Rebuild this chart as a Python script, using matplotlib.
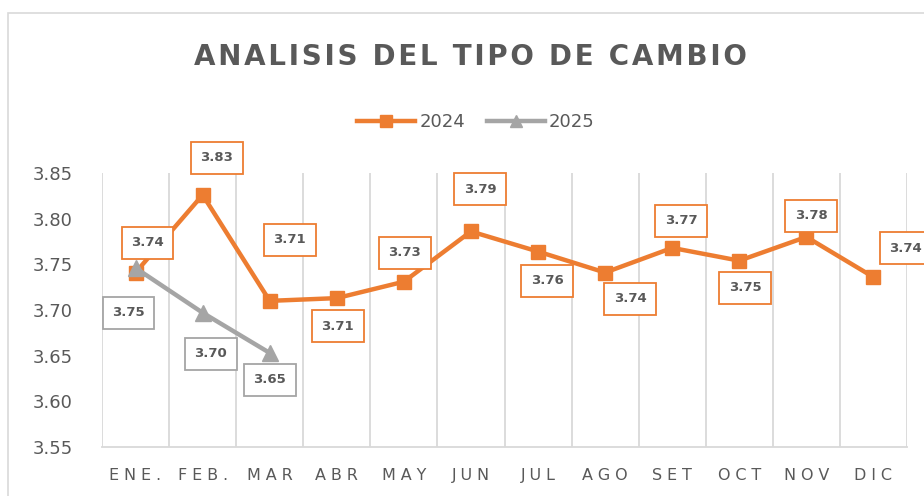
import matplotlib
matplotlib.use("Agg")
import matplotlib.pyplot as plt
from matplotlib.patches import Rectangle
from matplotlib.lines import Line2D

months = ["ENE.", "FEB.", "MAR", "ABR", "MAY", "JUN", "JUL", "AGO", "SET", "OCT", "NOV", "DIC"]
v2024 = [3.741, 3.826, 3.710, 3.713, 3.731, 3.786, 3.764, 3.741, 3.768, 3.754, 3.780, 3.736]
v2025 = [3.746, 3.697, 3.653]
yticks = [3.55, 3.60, 3.65, 3.70, 3.75, 3.80, 3.85]

ORANGE = "#ED7D31"
GRAY = "#A5A5A5"
TXT = "#595959"
GRID = "#D9D9D9"

# label offsets (pixels, right / down)
off2024 = [(12, -30), (14, -37), (20, -61), (1, 28), (1, -29), (9, -42),
           (9, 29), (25, 26), (9, -27), (6, 27), (5, -21), (32, -29)]
off2025 = [(-7, 45), (8, 41), (0, 27)]

W, H = 924, 496
fig = plt.figure(figsize=(W / 100, H / 100), dpi=100)
fig.patch.set_facecolor("white")

# chart border
fig.add_artist(Rectangle((8 / W, -0.1), 1.2, 1 - 13 / H + 0.1, transform=fig.transFigure,
                         fill=False, edgecolor=GRID, linewidth=1.2))

left, right, top, bottom = 102, 907, 173, 447
ax = fig.add_axes([left / W, 1 - bottom / H, (right - left) / W, (bottom - top) / H])
x = list(range(len(months)))

ax.set_xlim(-0.5, len(months) - 0.5)
ax.set_ylim(3.55, 3.85)
for k in range(len(months) + 1):
    ax.axvline(k - 0.5, color=GRID, linewidth=1.3, zorder=0)
for s in ["top", "right", "left"]:
    ax.spines[s].set_visible(False)
ax.spines["bottom"].set_color(GRID)
ax.spines["bottom"].set_linewidth(1.3)

ax.plot(x, v2024, color=ORANGE, linewidth=3.2, marker="s", markersize=10.5, zorder=3, label="2024")
ax.plot(x[:len(v2025)], v2025, color=GRAY, linewidth=3.2, marker="^", markersize=11, zorder=4, label="2025")

def spaced(s, sep="\u2009"):
    return sep.join(list(s))

ax.set_xticks(x)
ax.set_xticklabels([spaced(m, "\u2009\u200a") for m in months], fontsize=11.5, color=TXT)
ax.set_yticks(yticks)
ax.set_yticklabels([f"{t:.2f}" for t in yticks], fontsize=13, color=TXT)
ax.tick_params(axis="both", length=0)
ax.tick_params(axis="y", pad=21)
ax.tick_params(axis="x", pad=15)

def add_labels(vals, offs, col):
    for i, (v, (dx, dy)) in enumerate(zip(vals, offs)):
        ax.annotate(f"{v:.2f}", (x[i], v), xytext=(dx * 0.72, -dy * 0.72), textcoords="offset points",
                    ha="center", va="center", fontsize=9.5, fontweight="bold", color=TXT,
                    bbox=dict(boxstyle="square,pad=0.72", facecolor="white", edgecolor=col, linewidth=1.3),
                    zorder=5, annotation_clip=False)

add_labels(v2024, off2024, ORANGE)
add_labels(v2025, off2025, GRAY)

fig.text(470 / W, 1 - 57 / H, spaced("ANALISIS DEL TIPO DE CAMBIO", "\u200a"), ha="center", va="center",
         fontsize=20, fontweight="bold", color=TXT)

handles = [Line2D([], [], color=ORANGE, linewidth=3.2, marker="s", markersize=9),
           Line2D([], [], color=GRAY, linewidth=3.2, marker="^", markersize=9)]
fig.legend(handles, ["2024", "2025"], loc="center", bbox_to_anchor=(476 / W, 1 - 122 / H),
           ncol=2, frameon=False, fontsize=13, labelcolor=TXT, handlelength=3.2,
           columnspacing=1.2, handletextpad=0.25)

fig.savefig("out.png", dpi=100)
